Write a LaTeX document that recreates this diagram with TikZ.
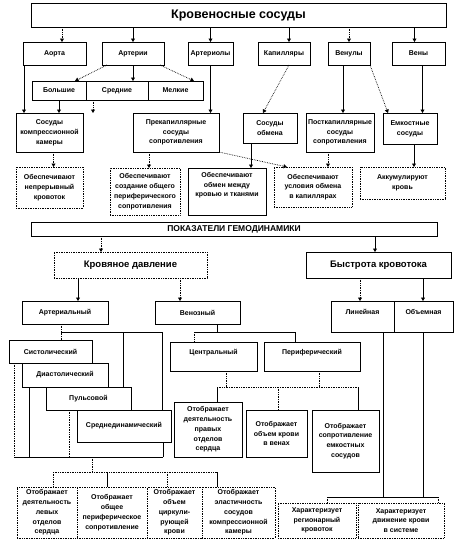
\documentclass[tikz,border=0pt]{standalone}
\usepackage{fontspec}
\setmainfont{Liberation Sans}
\usetikzlibrary{arrows.meta, positioning}

\begin{document}
\begin{tikzpicture}[x=1pt, y=-1pt, line width=0.7pt,
  box/.style={draw, fill=white, anchor=north west, align=center, inner sep=1pt, outer sep=0pt, font=\fontsize{7}{9.8}\selectfont\bfseries},
  dbox/.style={box, densely dotted},
  sz/.style 2 args={minimum width=#1pt, minimum height=#2pt},
  textup/.style={text depth=#1pt},
  arr/.style={-{Triangle[length=3.5pt, width=4pt]}},
  darr/.style={arr, densely dotted},
  dline/.style={densely dotted}
]
  \useasboundingbox (0,0) rectangle (473,544);

  \node[box, sz={415}{24}, font=\fontsize{12.5}{14}\selectfont\bfseries] (vessels) at (31,3) {Кровеносные сосуды};

  \node[box, sz={63}{23}] (aorta) at (23,42) {Аорта};
  \node[box, sz={62}{23}] (arteries) at (102,42) {Артерии};
  \node[box, sz={45}{23}] (arterioles) at (188,42) {Артериолы};
  \node[box, sz={52}{23}] (capill) at (258,42) {Капилляры};
  \node[box, sz={42}{23}] (venules) at (328,42) {Венулы};
  \node[box, sz={53}{23}] (veins) at (392,42) {Вены};

  \node[box, sz={54}{19}] (big) at (32,81) {Большие};
  \node[box, sz={62}{19}, right=0pt of big] (medium) {Средние};
  \node[box, sz={55}{19}, right=0pt of medium] (small) {Мелкие};

  \node[box, sz={67}{39}] (compr) at (16,113) {Сосуды\\компрессионной\\камеры};
  \node[box, sz={86}{39}] (precap) at (133,113) {Прекапиллярные\\сосуды\\сопротивления};
  \node[box, sz={54}{30}] (exch) at (243,113) {Сосуды\\обмена};
  \node[box, sz={68}{39}] (postcap) at (306,113) {Посткапиллярные\\сосуды\\сопротивления};
  \node[box, sz={54}{31}] (capac) at (383,113) {Емкостные\\сосуды};

  \node[dbox, sz={67}{41}] (contFlow) at (16,167) {Обеспечивают\\непрерывный\\кровоток};
  \node[dbox, sz={70}{47}] (resist) at (110,168) {Обеспечивают\\создание общего\\периферического\\сопротивления};
  \node[box, sz={78}{47}, textup=14] (exchange) at (188,168) {Обеспечивают\\обмен между\\кровью и тканями};
  \node[dbox, sz={78}{40}] (exchCond) at (274,167) {Обеспечивают\\условия обмена\\в капиллярах};
  \node[dbox, sz={85}{32}] (accum) at (360,167) {Аккумулируют\\кровь};

  \node[box, sz={406}{14}, font=\fontsize{8.5}{9}\selectfont\bfseries] (hemo) at (31,222) {ПОКАЗАТЕЛИ ГЕМОДИНАМИКИ};
  \node[dbox, sz={153}{26}, font=\fontsize{9.5}{11}\selectfont\bfseries] (pressure) at (54,252) {Кровяное давление};
  \node[box, sz={145}{26}, font=\fontsize{9.5}{11}\selectfont\bfseries] (speed) at (306,252) {Быстрота кровотока};

  \node[box, sz={86}{23}] (arterial) at (22,301) {Артериальный};
  \node[box, sz={85}{23}] (venous) at (155,301) {Венозный};
  \node[box, sz={63}{31}, textup=10] (linear) at (331,301) {Линейная};
  \node[box, sz={59}{31}, textup=10, right=0pt of linear] (volume) {Объемная};

  \node[box, sz={83}{23}] (systolic) at (9,340) {Систолический};
  \node[box, sz={86}{24}] (diastolic) at (22,363) {Диастолический};
  \node[box, sz={85}{23}] (pulse) at (46,387) {Пульсовой};
  \node[box, sz={94}{32}] (mean) at (77,410) {Среднединамический};

  \node[box, sz={87}{29}, textup=10] (central) at (170,342) {Центральный};
  \node[box, sz={96}{29}, textup=10] (peripheral) at (264,342) {Периферический};
  \node[box, sz={68}{55}] (rightHeart) at (174,402) {Отображает\\деятельность\\правых\\отделов\\сердца};
  \node[box, sz={61}{47}] (veinVol) at (246,410) {Отображает\\объем крови\\в венах};
  \node[box, sz={67}{62}] (capacRes) at (312,410) {Отображает\\сопротивление\\емкостных\\сосудов};

  \node[dbox, sz={60}{51}] (leftHeart) at (17,487) {Отображает\\деятельность\\левых\\отделов\\сердца};
  \node[dbox, sz={70}{51}, right=0pt of leftHeart] (totalRes) {Отображает\\общее\\периферическое\\сопротивление};
  \node[dbox, sz={55}{51}, right=0pt of totalRes] (circVol) {Отображает\\объем\\циркули-\\рующей\\крови};
  \node[dbox, sz={73}{51}, right=0pt of circVol] (elastic) {Отображает\\эластичность\\сосудов\\компрессионной\\камеры};
  \node[dbox, sz={78}{35}] (regional) at (278,503) {Характеризует\\регионарный\\кровоток};
  \node[dbox, sz={86}{35}, right=2pt of regional] (sysMotion) {Характеризует\\движение крови\\в системе};

  \draw[darr] ([xshift=39pt]aorta.north west |- vessels.south) -- ([xshift=39pt]aorta.north west);
  \draw[arr] (arteries.north |- vessels.south) -- (arteries.north);
  \draw[arr] (arterioles.north |- vessels.south) -- (arterioles.north);
  \draw[arr] ([xshift=5pt]capill.north |- vessels.south) -- ([xshift=5pt]capill.north);
  \draw[darr] (venules.north |- vessels.south) -- (venules.north);
  \draw[arr] ([xshift=-4pt]veins.north |- vessels.south) -- ([xshift=-4pt]veins.north);

  \draw[darr] ([xshift=5pt]arteries.south west) -- ([xshift=43pt]big.north west);
  \draw[arr] (arteries.south) -- (arteries.south |- medium.north);
  \draw[darr] ([xshift=-4pt]arteries.south east) -- ([xshift=-9pt]small.north east);

  \draw[arr] ([xshift=1pt]aorta.south west) -- ([xshift=1pt]aorta.south west |- compr.north);
  \draw[arr] (big.south) -- (big.south |- compr.north);
  \draw[darr] ([xshift=7pt]medium.south west) -- ([xshift=7pt]medium.south west |- compr.north);
  \draw[arr] (arterioles.south) -- (arterioles.south |- precap.north);
  \draw[darr] ([xshift=5pt]capill.south) -- ([xshift=-7pt]exch.north);
  \draw[arr] ([xshift=-6pt]venules.south) -- ([xshift=-6pt]venules.south |- postcap.north);
  \draw[darr] (venules.south east) -- ([xshift=5pt]capac.north west);
  \draw[arr] ([xshift=4pt]veins.south) -- ([xshift=4pt]veins.south |- capac.north);

  \draw[darr] ([xshift=4pt]compr.south) -- ([xshift=4pt]compr.south |- contFlow.north);
  \draw[darr] ([xshift=4pt]resist.north |- precap.south) -- ([xshift=4pt]resist.north);
  \draw[arr] ([xshift=8pt]exch.south west) -- ([xshift=8pt]exch.south west |- exchange.north);
  \draw[darr] (precap.south east) -- ([xshift=13pt]exchCond.north west);
  \draw[darr] ([xshift=-12pt]postcap.south) -- ([xshift=-12pt]postcap.south |- exchCond.north);
  \draw[arr] ([xshift=4pt]capac.south) -- ([xshift=4pt]capac.south |- accum.north);

  \draw[darr] ([xshift=47pt]pressure.north west |- hemo.south) -- ([xshift=47pt]pressure.north west);
  \draw[arr] ([xshift=69pt]speed.north west |- hemo.south) -- ([xshift=69pt]speed.north west);
  \draw[arr] ([xshift=56pt]arterial.north west |- pressure.south) -- ([xshift=56pt]arterial.north west);
  \draw[darr] ([xshift=25pt]venous.north west |- pressure.south) -- ([xshift=25pt]venous.north west);
  \draw[darr] ([xshift=29pt]linear.north west |- speed.south) -- ([xshift=29pt]linear.north west);
  \draw[arr] ([xshift=29pt]volume.north west |- speed.south) -- ([xshift=29pt]volume.north west);

  \coordinate (aBusL) at (61,332);
  \coordinate (aBusP) at (123,332);
  \coordinate (aBusR) at (162,332);
  \draw[dline] ([xshift=-4pt]arterial.south) -- ([xshift=-4pt]arterial.south |- systolic.north);
  \draw (aBusL) -- (aBusR) -- (aBusR |- mean.north);
  \draw (aBusP) -- (aBusP |- pulse.north);

  \coordinate (aLowL) at (14,457);
  \coordinate (aLowR) at (163,457);
  \coordinate (aOut) at (92,457);
  \coordinate (outL) at (53,472);
  \coordinate (outR) at (217,472);
  \draw[dline] ([xshift=5pt]systolic.south west) -- ([xshift=5pt]systolic.south west |- aLowL);
  \draw ([xshift=7pt]diastolic.south west) -- ([xshift=7pt]diastolic.south west |- aLowL);
  \draw[dline] ([xshift=23pt]pulse.south west) -- ([xshift=23pt]pulse.south west |- aLowL);
  \draw ([xshift=-8pt]mean.south east) -- ([xshift=-8pt]mean.south east |- aLowL);
  \draw (aLowL) -- (aLowR);
  \draw[dline] (aOut) -- (aOut |- outL);
  \draw[dline] (outL) -- (outR);
  \draw[dline] (outL) -- (outL |- leftHeart.north);
  \draw ([xshift=30pt]totalRes.north west |- outL) -- ([xshift=30pt]totalRes.north west);
  \draw[dline] ([xshift=20pt]circVol.north west |- outL) -- ([xshift=20pt]circVol.north west);
  \draw (outR) -- (outR |- elastic.north);

  \coordinate (vBusL) at (194,332);
  \coordinate (vBusR) at (295,332);
  \coordinate (vLowL) at (217,387);
  \coordinate (vLowR) at (358,387);
  \draw ([xshift=62pt]venous.south west) -- ([xshift=62pt]venous.south west |- vBusL);
  \draw (vBusL) -- (vBusR);
  \draw[dline] (vBusL) -- (vBusL |- central.north);
  \draw (vBusR) -- (vBusR |- peripheral.north);
  \draw[dline] ([xshift=-31pt]central.south east) -- ([xshift=-31pt]central.south east |- vLowL);
  \draw[dline] ([xshift=-41pt]peripheral.south east) -- ([xshift=-41pt]peripheral.south east |- vLowL);
  \draw[dline] (vLowL) -- (vLowR);
  \draw (vLowL) -- (vLowL |- rightHeart.north);
  \draw[dline] ([xshift=32pt]veinVol.north west |- vLowL) -- ([xshift=32pt]veinVol.north west);
  \draw (vLowR) -- (vLowR |- capacRes.north);

  \coordinate (sBusL) at (327,497);
  \coordinate (sBusR) at (438,497);
  \draw ([xshift=52pt]linear.south west) -- ([xshift=52pt]linear.south west |- sBusL);
  \draw ([xshift=29pt]volume.south west) -- ([xshift=29pt]volume.south west |- sBusL);
  \draw (sBusL) -- (sBusR);
  \draw[dline] (sBusL) -- (sBusL |- regional.north);
  \draw[dline] (sBusR) -- (sBusR |- sysMotion.north);
\end{tikzpicture}
\end{document}
